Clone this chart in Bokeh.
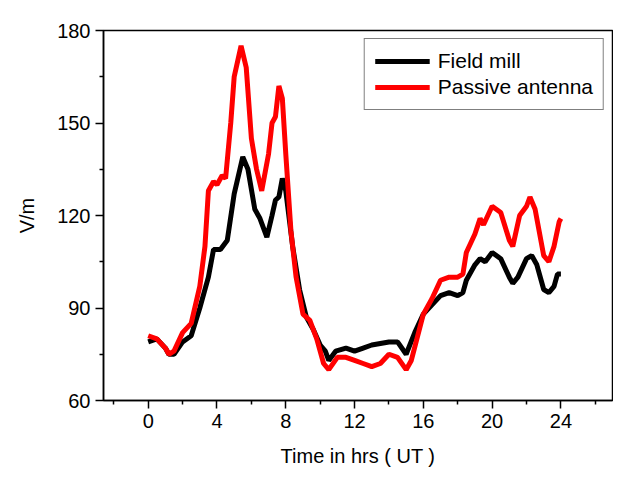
from bokeh.plotting import figure
from bokeh.models import Range1d, FixedTicker, Legend, LegendItem
from bokeh.embed import file_html
from bokeh.resources import INLINE

t_fm = [0,0.5,1,1.2,1.5,2,2.5,3,3.5,3.8,4.2,4.6,5,5.5,5.8,6.2,6.5,6.9,7.2,7.4,7.6,7.8,8,8.4,8.8,9.2,9.6,10,10.3,10.5,10.9,11.5,12,12.5,13,14,14.5,15,15.5,16,16.5,17,17.5,18,18.3,18.5,19,19.3,19.6,20,20.5,21,21.2,21.5,22,22.3,22.6,23,23.3,23.6,23.8,24]
v_fm = [79,80,77,75,75,79,81,90,100,109,109,112,127,139,135,122,119,113,120,125,126,132,128,110,96,87,83,78,76,73,76,77,76,77,78,79,79,75,82,88,91,94,95,94,95,99,104,106,105,108,106,100,98,100,106,107,104,96,95,97,101,101]
t_pa = [0,0.5,1,1.2,1.5,2,2.5,3,3.3,3.5,3.8,4,4.3,4.5,4.8,5,5.4,5.7,6,6.3,6.6,7,7.2,7.4,7.6,7.8,8,8.3,8.6,9,9.4,9.8,10.2,10.5,11,11.5,12,12.5,13,13.5,14,14.5,15,15.3,16,16.5,17,17.5,18,18.3,18.5,19,19.3,19.5,20,20.5,21,21.2,21.6,22,22.2,22.5,23,23.3,23.6,23.9,24]
v_pa = [81,80,77,75,76,82,85,97,110,128,131,130,133,132,150,165,175,168,145,135,128,140,150,152,162,158,140,115,100,88,86,80,72,70,74,74,73,72,71,72,75,74,70,73,88,93,99,100,100,101,108,114,119,117,123,121,112,110,120,123,126,122,107,105,110,118,119]
x_ticks = [0,4,8,12,16,20,24]
y_ticks = [60,90,120,150,180]

p = figure(width=613, height=484, output_backend="svg", toolbar_location=None,
           x_range=Range1d(-2.6, 27), y_range=Range1d(60, 180),
           min_border_left=103, min_border_right=1, min_border_top=30, min_border_bottom=84)
p.grid.visible = False
p.outline_line_color = "black"
p.outline_line_width = 1.5
f = "Liberation Sans"
for ax, ticks in ((p.xaxis[0], x_ticks), (p.yaxis[0], y_ticks)):
    step = ticks[1] - ticks[0]
    ax.ticker = FixedTicker(ticks=ticks, minor_ticks=[ticks[0] - step/2] + [t + step/2 for t in ticks])
    ax.major_label_text_font = f
    ax.major_label_text_font_size = "20px"
    ax.major_label_text_color = "black"
    ax.axis_label_text_font = f
    ax.axis_label_text_font_size = "20px"
    ax.axis_label_text_font_style = "normal"
    ax.axis_label_text_color = "black"
    ax.axis_line_width = 1.5
    ax.major_tick_line_width = 1.5
    ax.minor_tick_line_width = 1.5
    ax.major_tick_out = 8
    ax.major_tick_in = 0
    ax.minor_tick_out = 4
    ax.minor_tick_in = 0
p.xaxis.axis_label = "Time in hrs ( UT )"
p.xaxis.axis_label_standoff = 14
p.yaxis.axis_label = "V/m"
p.yaxis.axis_label_standoff = 16

r1 = p.line(t_fm, v_fm, line_color="black", line_width=5)
r2 = p.line(t_pa, v_pa, line_color="red", line_width=5)
leg = Legend(items=[LegendItem(label="Field mill", renderers=[r1]),
                    LegendItem(label="Passive antenna", renderers=[r2])],
             location="top_right", border_line_color="black", border_line_width=1.5,
             label_text_font=f, label_text_font_size="21px", label_text_color="black",
             glyph_width=55, spacing=2, padding=10, margin=8, label_standoff=8)
p.add_layout(leg)
open("out.html", "w").write(file_html(p, INLINE))
